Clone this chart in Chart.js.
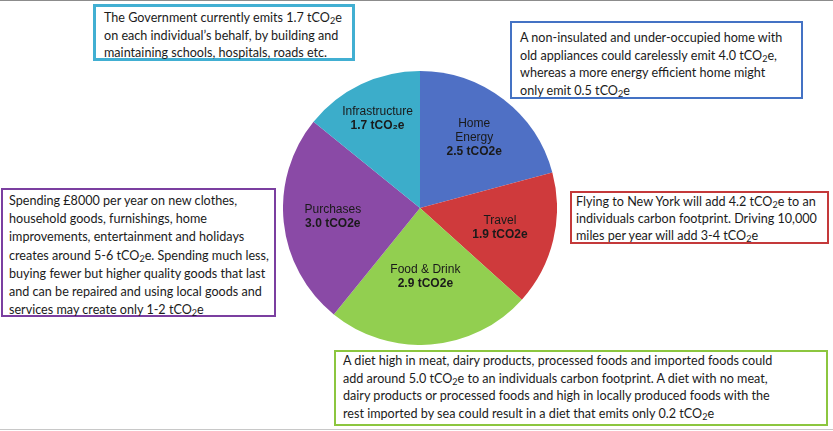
<!DOCTYPE html>
<html>
<head>
<meta charset="utf-8">
<script src="https://cdn.jsdelivr.net/npm/chart.js@4"></script>
<style>
  html, body { margin: 0; padding: 0; background: #fff; }
  #page { position: relative; width: 833px; height: 431px; overflow: hidden; }
  #topLine { position: absolute; left: 0; top: 0; width: 833px; height: 1px; background: #8c8c8c; }
  #bottomLine { position: absolute; left: 0; top: 429px; width: 833px; height: 1px; background: #c8c8c8; }
  #pieWrap { position: absolute; left: 283px; top: 71px; width: 274px; height: 274px; }
  .note {
    position: absolute; box-sizing: border-box; background: #fff;
    font-family: Lato, "Open Sans", sans-serif; font-size: 12.6px; line-height: 17.7px;
    color: #1b1b1b; white-space: nowrap;
  }
  .note sub { font-size: 72%; vertical-align: -2px; line-height: 0; }
</style>
</head>
<body>
<div id="page">
  <div id="topLine"></div>
  <div id="bottomLine"></div>
  <div id="pieWrap"><canvas id="pieChart"></canvas></div>

  <div class="note" style="left:93px; top:4px; width:262px; height:57px; border:3px solid #41afd2; padding:2px 0 0 8px;">
    The Government currently emits 1.7 tCO<sub>2</sub>e<br>
    on each individual’s behalf, by building and<br>
    maintaining schools, hospitals, roads etc.
  </div>

  <div class="note" style="left:510px; top:21px; width:293px; height:78px; border:2px solid #4472c4; padding:6px 0 0 8px;">
    A non-insulated and under-occupied home with<br>
    old appliances could carelessly emit 4.0 tCO<sub>2</sub>e,<br>
    whereas a more energy efficient home might<br>
    only emit 0.5 tCO<sub>2</sub>e
  </div>

  <div class="note" style="left:1px; top:188px; width:275px; height:129px; border:2px solid #7b3fa0; padding:2px 0 0 6px; line-height:18.2px;">
    Spending £8000 per year on new clothes,<br>
    household goods, furnishings, home<br>
    improvements, entertainment and holidays<br>
    creates around 5-6 tCO<sub>2</sub>e. Spending much less,<br>
    buying fewer but higher quality goods that last<br>
    and can be repaired and using local goods and<br>
    services may create only 1-2 tCO<sub>2</sub>e
  </div>

  <div class="note" style="left:570px; top:191px; width:259px; height:53px; border:2px solid #c4393a; padding:0 0 0 4px; line-height:17px;">
    Flying to New York will add 4.2 tCO<sub>2</sub>e to an<br>
    individuals carbon footprint. Driving 10,000<br>
    miles per year will add 3-4 tCO<sub>2</sub>e
  </div>

  <div class="note" style="left:334px; top:350px; width:494px; height:76px; border:2px solid #8cc63f; padding:0 0 0 7px;">
    A diet high in meat, dairy products, processed foods and imported foods could<br>
    add around 5.0 tCO<sub>2</sub>e to an individuals carbon footprint. A diet with no meat,<br>
    dairy products or processed foods and high in locally produced foods with the<br>
    rest imported by sea could result in a diet that emits only 0.2 tCO<sub>2</sub>e
  </div>
</div>

<script>
const categories = ["Home\nEnergy", "Travel", "Food & Drink", "Purchases", "Infrastructure"];
const emissions = [2.5, 1.9, 2.9, 3.0, 1.7];
const units = ["tCO2e", "tCO2e", "tCO2e", "tCO2e", "tCO\u2082e"];
const sliceColors = ["#4f70c5", "#cf3a3c", "#92cf50", "#8a4aa6", "#3cadca"];

// how far out from the centre each label sits (fraction of radius)
const labelDist = [0.65, 0.6, 0.5, 0.64, 0.72];

const sliceLabels = {
  id: "sliceLabels",
  afterDatasetsDraw(chart) {
    const ctx = chart.ctx;
    const meta = chart.getDatasetMeta(0);
    meta.data.forEach((arc, i) => {
      const mid = (arc.startAngle + arc.endAngle) / 2;
      const r = arc.outerRadius * labelDist[i];
      const x = arc.x + Math.cos(mid) * r;
      const y = arc.y + Math.sin(mid) * r;
      const lines = categories[i].split("\n");
      const lineH = 14;
      const total = lines.length + 1;
      let top = y - (total - 1) * lineH / 2;
      ctx.save();
      ctx.fillStyle = "#1a1a1a";
      ctx.textAlign = "center";
      ctx.textBaseline = "middle";
      ctx.font = "12px 'Liberation Sans', Arial, sans-serif";
      lines.forEach((ln, k) => ctx.fillText(ln, x, top + k * lineH));
      ctx.font = "bold 12px 'Liberation Sans', Arial, sans-serif";
      ctx.fillText(emissions[i].toFixed(1) + " " + units[i], x, top + lines.length * lineH);
      ctx.restore();
    });
  }
};

document.addEventListener("DOMContentLoaded", function () {
  const canvas = document.getElementById("pieChart");
  new Chart(canvas, {
    type: "pie",
    data: {
      labels: categories.map(c => c.replace("\n", " ")),
      datasets: [{
        data: emissions,
        backgroundColor: sliceColors,
        borderWidth: 0
      }]
    },
    options: {
      responsive: true,
      maintainAspectRatio: false,
      animation: false,
      layout: { padding: 0 },
      plugins: {
        legend: { display: false },
        tooltip: { enabled: false }
      }
    },
    plugins: [sliceLabels]
  });
});
</script>
</body>
</html>
